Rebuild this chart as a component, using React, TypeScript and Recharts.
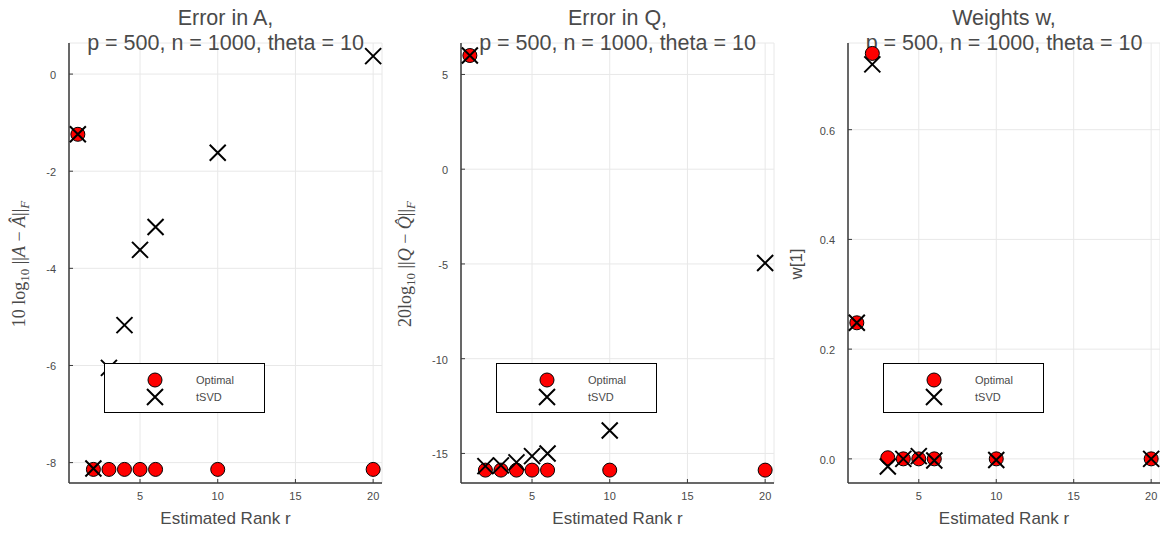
import React from 'react';
import { ScatterChart, Scatter, XAxis, YAxis, CartesianGrid, Legend, Customized } from 'recharts';

const ranks = [1, 2, 3, 4, 5, 6, 10, 20];
const xTicks = [5, 10, 15, 20];
const seriesNames = ['Optimal', 'tSVD'];

const errAOptimal = [-1.24, -8.14, -8.14, -8.14, -8.14, -8.14, -8.14, -8.14];
const errATsvd = [-1.24, -8.12, -6.05, -5.17, -3.62, -3.15, -1.62, 0.37];
const errAYTicks = [-8, -6, -4, -2, 0];

const errQOptimal = [6.0, -15.88, -15.88, -15.88, -15.88, -15.88, -15.88, -15.88];
const errQTsvd = [6.0, -15.67, -15.63, -15.47, -15.14, -15.0, -13.79, -4.95];
const errQYTicks = [-15, -10, -5, 0, 5];

const wOptimal = [0.248, 0.739, 0.002, 0, 0, 0, 0, 0];
const wTsvd = [0.248, 0.719, -0.014, 0, 0.005, -0.003, -0.002, 0];
const wYTicks = [0, 0.2, 0.4, 0.6];

const SANS = '"Liberation Sans", Arial, Helvetica, sans-serif';
const SERIF = '"Liberation Serif", "DejaVu Serif", serif';
const TEXT = '#4a4a4a';
const AXIS = '#3a3a3a';

const toPoints = (ys: number[]) => ranks.map((r, i) => ({ x: r, y: ys[i] }));

const CircleShape = (props: any) => (
  <circle cx={props.cx} cy={props.cy} r={7} fill="#ff0000" stroke="#000" strokeWidth={1} />
);

const CrossShape = (props: any) => {
  const { cx, cy } = props;
  const s = 8;
  return (
    <path
      d={`M${cx - s},${cy - s}L${cx + s},${cy + s}M${cx - s},${cy + s}L${cx + s},${cy - s}`}
      stroke="#000"
      strokeWidth={2}
      fill="none"
    />
  );
};

const YTick = (fmt: (v: number) => string) => (props: any) => {
  const { x, y, payload } = props;
  const ax = x + 13;
  return (
    <g>
      <line x1={ax} x2={ax + 4} y1={y} y2={y} stroke={AXIS} strokeWidth={1} />
      <text x={x} y={y + 1} dy="0.35em" textAnchor="end" fontSize={11} fill={TEXT} fontFamily={SANS}>
        {fmt(payload.value)}
      </text>
    </g>
  );
};

const XTick = (props: any) => {
  const { x, y, payload } = props;
  const ay = y - 14;
  return (
    <g>
      <line x1={x} x2={x} y1={ay} y2={ay - 4} stroke={AXIS} strokeWidth={1} />
      <text x={x} y={y + 3} textAnchor="middle" fontSize={11} fill={TEXT} fontFamily={SANS}>
        {payload.value}
      </text>
    </g>
  );
};

const LegendBox = (props: any) => {
  const payload = props.payload || [];
  const names = payload.length ? payload.map((p: any) => p.value) : seriesNames;
  return (
    <div
      style={{
        width: 161,
        height: 50,
        boxSizing: 'border-box',
        border: '1px solid #000',
        background: '#fff',
        position: 'relative',
      }}
    >
      <svg width={159} height={48} style={{ position: 'absolute', left: 0, top: 0 }}>
        <circle cx={50} cy={16} r={7} fill="#ff0000" stroke="#000" strokeWidth={1} />
        <path d="M42,25L58,41M42,41L58,25" stroke="#000" strokeWidth={2} fill="none" />
        <text x={91} y={16} dy="0.35em" fontSize={11} fill={TEXT} fontFamily={SANS}>
          {names[0]}
        </text>
        <text x={91} y={33} dy="0.35em" fontSize={11} fill={TEXT} fontFamily={SANS}>
          {names[1]}
        </text>
      </svg>
    </div>
  );
};

const Labels = (props: any) => {
  const { cx, title, ylabel, ylx } = props;
  return (
    <g>
      <text x={cx} y={25} textAnchor="middle" fontSize={21.5} fill={TEXT} fontFamily={SANS}>
        {title}
      </text>
      <text x={cx} y={50} textAnchor="middle" fontSize={21.5} fill={TEXT} fontFamily={SANS}>
        p = 500, n = 1000, theta = 10
      </text>
      <text x={cx} y={524} textAnchor="middle" fontSize={17} fill={TEXT} fontFamily={SANS}>
        Estimated Rank r
      </text>
      <g transform={`rotate(-90, ${ylx}, 264)`}>{ylabel(ylx, 264)}</g>
    </g>
  );
};

const labelA = (x: number, y: number) => (
  <text x={x} y={y} textAnchor="middle" fontSize={18} fill={TEXT} fontFamily={SERIF}>
    <tspan>10 log</tspan>
    <tspan fontSize={13} dy={4}>10</tspan>
    <tspan dy={-4}> ||</tspan>
    <tspan fontStyle="italic">A</tspan>
    <tspan> − </tspan>
    <tspan fontStyle="italic">Â</tspan>
    <tspan>||</tspan>
    <tspan fontSize={13} dy={4} fontStyle="italic">F</tspan>
  </text>
);

const labelQ = (x: number, y: number) => (
  <text x={x} y={y} textAnchor="middle" fontSize={18} fill={TEXT} fontFamily={SERIF}>
    <tspan>20log</tspan>
    <tspan fontSize={13} dy={4}>10</tspan>
    <tspan dy={-4}> ||</tspan>
    <tspan fontStyle="italic">Q</tspan>
    <tspan> − </tspan>
    <tspan fontStyle="italic">Q̂</tspan>
    <tspan>||</tspan>
    <tspan fontSize={13} dy={4} fontStyle="italic">F</tspan>
  </text>
);

const labelW = (x: number, y: number) => (
  <text x={x} y={y} textAnchor="middle" fontSize={17} fill={TEXT} fontFamily={SANS}>
    w[1]
  </text>
);

type PanelProps = {
  left: number;
  width: number;
  yAxisWidth: number;
  rightMargin: number;
  yDomain: [number, number];
  yTicks: number[];
  fmt: (v: number) => string;
  optimal: number[];
  tsvd: number[];
  title: string;
  ylabel: (x: number, y: number) => React.ReactElement;
  ylx: number;
};

const Panel = (p: PanelProps) => {
  const plotRight = p.width - p.rightMargin;
  const cx = (p.yAxisWidth + plotRight) / 2;
  return (
    <div style={{ position: 'absolute', left: p.left, top: 0, width: p.width, height: 533 }}>
      <ScatterChart width={p.width} height={533} margin={{ top: 43, right: p.rightMargin, bottom: 20, left: 0 }}>
        <CartesianGrid stroke="#e8e8e8" strokeWidth={1} />
        <XAxis
          type="number"
          dataKey="x"
          domain={[0.43, 20.57]}
          ticks={xTicks}
          allowDataOverflow
          interval={0}
          height={30}
          tickSize={0}
          tickMargin={14}
          tickLine={false}
          axisLine={{ stroke: AXIS, strokeWidth: 1.5 }}
          tick={XTick}
        />
        <YAxis
          type="number"
          dataKey="y"
          domain={p.yDomain}
          ticks={p.yTicks}
          allowDataOverflow
          interval={0}
          width={p.yAxisWidth}
          tickSize={0}
          tickMargin={13}
          tickLine={false}
          axisLine={{ stroke: AXIS, strokeWidth: 1.5 }}
          tick={YTick(p.fmt)}
        />
        <Scatter name={seriesNames[0]} data={toPoints(p.optimal)} shape={CircleShape} isAnimationActive={false} />
        <Scatter name={seriesNames[1]} data={toPoints(p.tsvd)} shape={CrossShape} isAnimationActive={false} />
        <Legend
          layout="horizontal"
          verticalAlign="middle"
          align="center"
          content={LegendBox}
          wrapperStyle={{ position: 'absolute', left: p.yAxisWidth + 35, top: 363, width: 161, height: 50 }}
        />
        <Customized component={<Labels cx={cx} title={p.title} ylabel={p.ylabel} ylx={p.ylx} />} />
      </ScatterChart>
    </div>
  );
};

export default function App() {
  return (
    <div style={{ position: 'absolute', left: 0, top: 0, width: 1160, height: 533, background: '#fff', overflow: 'hidden' }}>
      <Panel
        left={0}
        width={390}
        yAxisWidth={69}
        rightMargin={8}
        yDomain={[-8.42, 0.64]}
        yTicks={errAYTicks}
        fmt={(v) => String(v)}
        optimal={errAOptimal}
        tsvd={errATsvd}
        title="Error in A,"
        ylabel={labelA}
        ylx={25}
      />
      <Panel
        left={390}
        width={390}
        yAxisWidth={71}
        rightMargin={6}
        yDomain={[-16.56, 6.66]}
        yTicks={errQYTicks}
        fmt={(v) => String(v)}
        optimal={errQOptimal}
        tsvd={errQTsvd}
        title="Error in Q,"
        ylabel={labelQ}
        ylx={21}
      />
      <Panel
        left={780}
        width={380}
        yAxisWidth={68}
        rightMargin={0}
        yDomain={[-0.044, 0.758]}
        yTicks={wYTicks}
        fmt={(v) => v.toFixed(1)}
        optimal={wOptimal}
        tsvd={wTsvd}
        title="Weights w,"
        ylabel={labelW}
        ylx={22}
      />
    </div>
  );
}
